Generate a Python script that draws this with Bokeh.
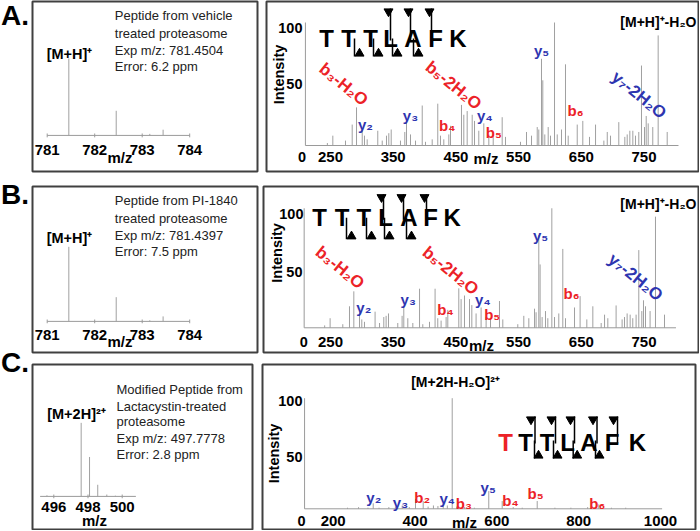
import math
from bokeh.plotting import figure
from bokeh.models import Range1d
from bokeh.layouts import row, column
from bokeh.embed import file_html
from bokeh.resources import INLINE
from bokeh.core.properties import value

# ---------------- data ----------------
# MS1 isotope envelopes (m/z, relative intensity)
a_ms1_mz = [781.455, 782.453, 783.16, 783.44]
a_ms1_int = [100, 32, 2, 7.4]
b_ms1_mz = [781.455, 782.453, 783.16, 783.44]
b_ms1_int = [100, 32.5, 1.5, 6.7]
c_ms1_mz = [495.6, 497.6, 498.09, 498.57, 499.1, 499.6]
c_ms1_int = [1.5, 100, 53.6, 15.8, 2.5, 1]
ms1_ab_ticks = [781, 782, 783, 784]
ms1_c_ticks = [496, 498, 500]

# MS/MS spectra
a_msms_mz = [245.0, 253.7, 273.9, 284.6, 291.5, 300.6, 304.2, 308.5, 325.4, 332.5, 339.3, 343.0, 346.8,
             361.6, 368.5, 371.2, 377.6, 385.6, 396.3, 401.5, 412.2, 421.1, 425.4, 430.7, 438.7, 441.4,
             458.9, 462.6, 468.0, 476.0, 479.7, 486.5, 494.5, 502.5, 509.5, 523.8, 529.1, 553.0, 562.6,
             570.6, 579.7, 582.2, 586.5, 588.6, 591.8, 597.2, 600.9, 607.3, 611.6, 618.4, 624.8, 629.1,
             643.5, 652.4, 663.1, 672.7, 686.0, 691.4, 696.6, 709.8, 719.4, 723.2, 727.4, 732.2, 736.4,
             741.7, 746.0, 750.8, 753.5, 756.7, 764.0, 772.6, 787.0]
a_msms_int = [2, 8, 4, 17, 31, 13, 8, 5, 12, 4, 8, 10, 13, 4, 11, 20, 9, 4, 32.5, 3, 5, 34, 8, 5, 9, 16,
              33, 25, 28, 25, 20, 12, 18, 9, 8, 23, 7, 3, 11, 8, 15, 13, 70.5, 53, 9, 15, 8, 100, 9, 13,
              66, 8, 17, 20, 7, 17, 4, 11, 8, 19, 7, 9, 12, 12, 8, 11, 65, 15, 24, 18, 15, 89.5, 11]
b_msms_mz = [240.7, 249.4, 269.6, 280.3, 287.2, 296.3, 299.9, 304.2, 321.1, 328.2, 335.0, 338.7, 342.5,
             357.3, 364.2, 366.9, 373.3, 381.3, 392.0, 397.2, 407.9, 416.8, 421.1, 426.4, 434.4, 437.1,
             454.6, 458.3, 463.7, 471.7, 475.4, 482.2, 490.2, 498.2, 505.2, 519.5, 524.8, 548.7, 558.3,
             566.3, 575.4, 577.9, 582.2, 584.3, 587.5, 592.9, 596.6, 603.0, 607.3, 614.1, 620.5, 624.8,
             639.2, 648.1, 658.8, 668.4, 681.7, 687.1, 692.3, 705.5, 715.1, 718.9, 723.1, 727.9, 732.1,
             737.4, 741.7, 746.5, 749.2, 752.4, 759.7, 768.3, 782.7]
b_msms_int = [2, 8, 3, 18, 30.5, 13.5, 7, 5, 13.5, 4, 9, 10, 12, 4, 10, 18.5, 8, 4, 32.7, 3, 5, 32.7, 8, 6,
              9, 15, 33, 24, 27, 24, 19, 12, 17, 9, 8, 22.4, 7, 3, 10, 8, 16, 13, 77.6, 53, 9, 14, 8, 100,
              9, 12, 66, 8, 17, 26.5, 7, 18, 4, 11, 8, 18.7, 7, 9, 12, 11, 8, 11, 65, 14, 23, 18, 14, 93, 11]
c_msms_mz = [235, 262, 285, 297.8, 312, 336, 352, 368.7, 386, 401.2, 420, 432, 445, 456, 468.9, 479,
             490.9, 502, 521, 545, 580.3, 613.1, 640, 662, 698.7, 742, 781, 822, 849.2, 880, 915]
c_msms_int = [1, 1.5, 1, 5, 1, 1.5, 2, 3, 1.5, 9, 7, 2, 3, 2.5, 5, 3, 100, 2, 1.5, 1, 16, 7, 1.5, 1, 7,
              1, 1, 1.5, 4, 1, 1]
msms_ab_ticks = [250, 350, 450, 550, 650, 750]
msms_c_ticks = [200, 400, 600, 800, 1000]
peptide = ["T", "T", "T", "L", "A", "F", "K"]

# ---------------- layout helpers ----------------
FONT = value("Liberation Sans")
RED = "#ec2227"
BLUE = "#2e35b0"
GRAY = "#a0a0a0"
AXIS = "#9a9a9a"
BOX = "#404040"
ROT = -0.68


def panel(fig_rect, frame, xmap=None, ymap=None, outline=True):
    """fig_rect/frame in page pixels; xmap/ymap give the data scale of the frame."""
    fx, fy, fw, fh = fig_rect
    x0, y0, x1, y1 = frame
    if xmap:
        a, d0, k = xmap
        xr = Range1d(d0 + (x0 - a) / k, d0 + (x1 - a) / k)
    else:
        xr = Range1d(x0, x1)
    if ymap:
        base, k = ymap
        yr = Range1d((base - y1) / k, (base - y0) / k)
    else:
        yr = Range1d(y1, y0)
    p = figure(width=fw, height=fh, x_range=xr, y_range=yr, title=None,
               output_backend="svg", toolbar_location=None,
               x_axis_type=None, y_axis_type=None,
               min_border_left=x0 - fx, min_border_right=fx + fw - x1,
               min_border_top=y0 - fy, min_border_bottom=fy + fh - y1)
    p.extra_x_ranges = {"px": Range1d(x0, x1)}
    p.extra_y_ranges = {"px": Range1d(y1, y0)}
    p.outline_line_color = BOX if outline else None
    p.outline_line_width = 2
    p.background_fill_color = "white"
    p.border_fill_color = "white"
    return p


def T(p, x, y, s, size, color="black", bold=True, align="center", angle=0.0,
      xname="px", yname="px"):
    xs = list(x) if isinstance(x, list) else None
    ys = list(y) if isinstance(y, list) else None
    n = len(xs) if xs is not None else (len(ys) if ys is not None else 1)
    if xs is None:
        xs = [x] * n
    if ys is None:
        ys = [y] * n
    ss = s if isinstance(s, list) else [s] * n
    p.text(x=xs, y=ys, text=ss, x_range_name=xname, y_range_name=yname,
           text_font=FONT, text_font_size=f"{size}px",
           text_font_style="bold" if bold else "normal", text_color=color,
           text_align=align, text_baseline="middle", angle=angle)


def sticks(p, mz, inten):
    p.segment(x0=mz, y0=[0] * len(mz), x1=mz, y1=inten, line_color=GRAY, line_width=1)


def ms1_panel(p, mz, inten, ticks, axis_lo, axis_hi, tick_y, mz_pos, ion_lbl, ion_pos, desc, desc_x, desc_y):
    sticks(p, mz, inten)
    p.segment(x0=[axis_lo], y0=[0], x1=[axis_hi], y1=[0], line_color=AXIS, line_width=1)
    p.segment(x0=ticks, y0=[-2.5] * len(ticks), x1=ticks, y1=[2.5] * len(ticks), line_color=AXIS, line_width=1)
    T(p, [float(t) for t in ticks], tick_y, [str(t) for t in ticks], 15, xname="default")
    T(p, mz_pos[0], mz_pos[1], "m/z", 15)
    T(p, ion_pos[0], ion_pos[1], ion_lbl, 14.5)
    T(p, [desc_x] * len(desc), desc_y, desc, 13, color="#222222", bold=False, align="left")


def msms_axes(p, axis_lo, axis_hi, ticks, tick_y, ylbl, intensity_pos, mz_pos):
    p.segment(x0=[axis_lo], y0=[0], x1=[axis_hi], y1=[0], line_color=AXIS, line_width=1)
    p.segment(x0=[axis_lo], y0=[0], x1=[axis_lo], y1=[100], line_color=AXIS, line_width=1)
    T(p, [float(t) for t in ticks], tick_y, [str(t) for t in ticks], 15, xname="default")
    for txt, x, y, al in ylbl:
        T(p, x, y, txt, 14.5, align=al)
    T(p, intensity_pos[0], intensity_pos[1], "Intensity", 14.5, angle=math.pi / 2)
    T(p, mz_pos[0], mz_pos[1], "m/z", 15)


def peptide_block(p, xs, y, size, colors, up_lines, up_top, up_bot, up_off, lo_lines, lo_top, lo_bot, lo_off):
    p.text(x=xs, y=[y] * len(xs), text=peptide, x_range_name="px", y_range_name="px",
           text_font=FONT, text_font_size=f"{size}px", text_font_style="bold",
           text_color=colors, text_align="center", text_baseline="middle")
    n = len(up_lines)
    p.segment(x0=up_lines, y0=[up_top] * n, x1=up_lines, y1=[up_bot] * n, line_color="black",
              line_width=1.5, x_range_name="px", y_range_name="px")
    p.scatter(x=[u + up_off for u in up_lines], y=[up_top + 3] * n, marker="inverted_triangle", size=9,
              color="black", x_range_name="px", y_range_name="px")
    m = len(lo_lines)
    p.segment(x0=lo_lines, y0=[lo_top] * m, x1=lo_lines, y1=[lo_bot] * m, line_color="black",
              line_width=1.5, x_range_name="px", y_range_name="px")
    p.scatter(x=[u + lo_off for u in lo_lines], y=[lo_bot - 3] * m, marker="triangle", size=9,
              color="black", x_range_name="px", y_range_name="px")


def ions(p, items, size=15):
    for s, x, y, c in items:
        T(p, x, y, s, size, color=c)


def rot_ions(p, items, size=17):
    for s, x, y, c in items:
        T(p, x, y, s, size, color=c, angle=ROT)


# ---------------- panel letters ----------------
letters = panel((0, 0, 31, 530), (0, 0, 31, 530), outline=False)
T(letters, [0.5, 0.5, 0.5], [15, 194, 361.7], ["A.", "B.", "C."], 28, align="left")

# ---------------- A ----------------
aL = panel((31, 0, 229, 178), (32, 1, 257, 172), xmap=(46.7, 781, 47.5), ymap=(135.7, 0.774))
ms1_panel(aL, a_ms1_mz, a_ms1_int, ms1_ab_ticks, 781, 784, 150, (119.5, 157.5), "[M+H]⁺", (69, 54),
          ["Peptide from vehicle", "treated proteasome", "Exp m/z: 781.4504", "Error: 6.2 ppm"],
          114.3, [15, 32.7, 50, 66])

aR = panel((260, 0, 439, 178), (266, 1, 698, 171), xmap=(330, 250, 0.627), ymap=(145, 1.23))
sticks(aR, a_msms_mz, a_msms_int)
msms_axes(aR, 210, 805, msms_ab_ticks, 156,
          [("100", 302, 27, "right"), ("50", 302, 83, "right"), ("0", 301.5, 156, "center")],
          (278, 74), (485.5, 158))
T(aR, 696, 21.7, "[M+H]⁺-H₂O", 14, align="right")
peptide_block(aR, [326, 348, 370, 390, 412.5, 435, 457.5], 38, 24, ["black"] * 7,
              [390, 410, 431], 8, 40, -2, [354, 373, 392, 413], 38, 56, 5)
ions(aR, [("y₂", 365, 124, BLUE), ("y₃", 410, 115, BLUE), ("b₄", 446.7, 125, RED),
          ("y₄", 484.3, 115, BLUE), ("b₅", 493.3, 131.7, RED), ("y₅", 541, 50, BLUE),
          ("b₆", 575, 110, RED)])
rot_ions(aR, [("b₃-H₂O", 343, 84, RED), ("b₅-2H₂O", 453, 85, RED), ("y₇-2H₂O", 638.5, 94.5, BLUE)])

# ---------------- B ----------------
bL = panel((31, 178, 229, 179), (32, 186, 257, 353), xmap=(46.7, 781, 47.5), ymap=(321.7, 0.75))
ms1_panel(bL, b_ms1_mz, b_ms1_int, ms1_ab_ticks, 781, 784, 335, (119.5, 342), "[M+H]⁺", (69, 238.3),
          ["Peptide from PI-1840", "treated proteasome", "Exp m/z: 781.4397", "Error: 7.5 ppm"],
          114.3, [200, 217.7, 235, 251])

bR = panel((260, 178, 439, 179), (263, 182, 698, 352), xmap=(330, 250, 0.627), ymap=(326.7, 1.224))
sticks(bR, b_msms_mz, b_msms_int)
msms_axes(bR, 208, 801, msms_ab_ticks, 341.7,
          [("100", 303, 210, "right"), ("50", 302, 270, "right"), ("0", 303.3, 341.7, "center")],
          (276.7, 250), (481, 345))
T(bR, 696, 200, "[M+H]⁺-H₂O", 14, align="right")
peptide_block(bR, [319, 341.7, 363.3, 385, 408.3, 430, 451.7], 214, 24, ["black"] * 7,
              [383, 403, 426], 190, 216, -2, [346, 366, 384, 406], 214, 236, 5)
ions(bR, [("y₂", 363.3, 305.7, BLUE), ("y₃", 407.7, 297.7, BLUE), ("b₄", 445, 308.3, RED),
          ("y₄", 482.3, 297.7, BLUE), ("b₅", 491.7, 313.3, RED), ("y₅", 540, 231.7, BLUE),
          ("b₆", 571, 291.7, RED)])
rot_ions(bR, [("b₃-H₂O", 339.3, 265, RED), ("b₅-2H₂O", 450, 268.3, RED), ("y₇-2H₂O", 635, 275, BLUE)])

# ---------------- C ----------------
cL = panel((31, 357, 229, 173), (32, 363, 252, 529), xmap=(53.3, 496, 17.1), ymap=(495.7, 0.74))
ms1_panel(cL, c_ms1_mz, c_ms1_int, ms1_c_ticks, 495.2, 500.8, 506.7, (94, 519.5), "[M+2H]²⁺", (76, 413.3),
          ["Modified Peptide from", "Lactacystin-treated", "proteasome", "Exp m/z: 497.7778",
           "Error: 2.8 ppm"],
          116, [388.3, 405, 420.7, 437.3, 454])

cR = panel((260, 357, 439, 173), (262, 364, 695, 529), xmap=(332.7, 200, 0.4091), ymap=(508.3, 1.106))
sticks(cR, c_msms_mz, c_msms_int)
msms_axes(cR, 130, 1004, msms_c_ticks, 520.5,
          [("100", 302, 400, "right"), ("50", 302, 456.7, "right"), ("0", 301, 520.5, "center")],
          (273, 453), (464, 521.5))
T(cR, 455, 381.7, "[M+2H-H₂O]²⁺", 14)
peptide_block(cR, [505, 525, 546.7, 567, 588.3, 611.7, 637], 441.7, 24, [RED] + ["black"] * 6,
              [534.5, 555, 574, 596.5, 617], 416, 443, -4, [534, 553, 572.7, 595], 440, 458, 4)
ions(cR, [("y₂", 373.3, 496.7, BLUE), ("y₃", 400, 501.7, BLUE), ("b₂", 421.7, 496.7, RED),
          ("y₄", 446.7, 498.3, BLUE), ("b₃", 463.3, 503.3, RED), ("y₅", 487.7, 486.7, BLUE),
          ("b₄", 510, 500, RED), ("b₅", 535, 493.3, RED), ("b₆", 596.7, 502.7, RED)])

layout = row(letters, column(row(aL, aR), row(bL, bR), row(cL, cR)))
open("out.html", "w").write(file_html(layout, INLINE))
